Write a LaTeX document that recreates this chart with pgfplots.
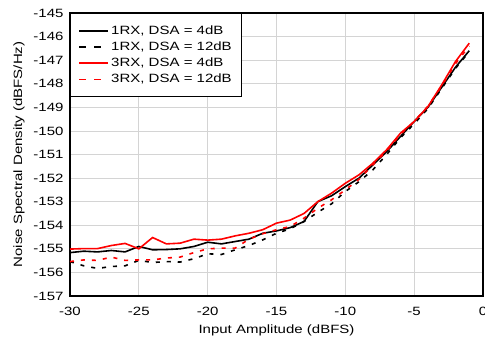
\documentclass[border=0pt]{standalone}
\usepackage{pgfplots}
\pgfplotsset{compat=1.18}
\usepackage{fontspec}
\setmainfont[FakeStretch=1.25]{Liberation Sans}
\definecolor{gridgray}{HTML}{D4D4D4}

\pgfplotstableread{
x a b c d
-30 -155.16 -155.54 -155.01 -155.54
-29 -155.10 -155.72 -154.99 -155.47
-28 -155.13 -155.83 -154.99 -155.49
-27 -155.07 -155.75 -154.86 -155.35
-26 -155.13 -155.72 -154.77 -155.49
-25 -154.90 -155.49 -155.00 -155.47
-24 -155.04 -155.58 -154.52 -155.47
-23 -155.03 -155.54 -154.79 -155.39
-22 -155.00 -155.56 -154.76 -155.35
-21 -154.90 -155.42 -154.59 -155.16
-20 -154.72 -155.21 -154.63 -155.00
-19 -154.79 -155.24 -154.59 -154.97
-18 -154.69 -155.04 -154.45 -154.97
-17 -154.59 -154.86 -154.34 -154.59
-16 -154.34 -154.62 -154.19 -154.36
-15 -154.24 -154.34 -153.91 -154.19
-14 -154.10 -154.15 -153.78 -154.05
-13 -153.84 -153.84 -153.50 -153.70
-12 -153.00 -153.45 -153.00 -153.28
-11 -152.75 -153.09 -152.64 -152.92
-10 -152.36 -152.57 -152.22 -152.50
-9  -152.00 -152.15 -151.86 -152.05
-8  -151.44 -151.65 -151.37 -151.44
-7  -150.88 -151.00 -150.80 -150.85
-6  -150.24 -150.30 -150.10 -150.15
-5  -149.60 -149.70 -149.60 -149.60
-4  -149.00 -149.05 -148.97 -148.95
-3  -148.15 -148.20 -148.05 -148.10
-2  -147.30 -147.35 -147.06 -147.15
-1  -146.60 -146.64 -146.28 -146.40
}\data

\begin{document}
\begin{tikzpicture}
\begin{axis}[
    scale only axis,
    width=413pt, height=283pt,
    xmin=-30, xmax=0, ymin=-157, ymax=-145,
    xtick={-30,-25,...,0}, ytick={-157,-156,...,-145},
    grid=major,
    major grid style={gridgray, line width=0.8pt},
    axis line style={black, line width=1.6pt},
    tick style={draw=none},
    ticklabel style={font=\fontsize{12}{14}\selectfont},
    /pgf/number format/assume math mode=true,
    yticklabel style={xshift=-3pt},
    xticklabel style={yshift=-8pt},
    xlabel={Input Amplitude (dBFS)},
    ylabel={Noise Spectral Density (dBFS/Hz)},
    label style={font=\fontsize{12}{14}\selectfont},
    xlabel style={yshift=-2pt},
    ylabel style={yshift=2pt},
    legend style={at={(0,1)}, anchor=north west, draw=black, line width=1.3pt,
        font=\fontsize{12}{14}\selectfont, row sep=2pt,
        inner xsep=8pt, inner ysep=10pt},
    legend cell align=left,
    legend image code/.code={\draw[#1] (-2pt,0pt) -- (27pt,0pt);},
]
\addplot[black, line width=1.6pt] table[x=x, y=a] {\data};
\addlegendentry{1RX, DSA = 4dB}
\addplot[black, line width=1.6pt, dash pattern=on 4pt off 7pt,
    legend image post style={dash pattern=on 7pt off 8pt}] table[x=x, y=b] {\data};
\addlegendentry{1RX, DSA = 12dB}
\addplot[red, line width=1.6pt] table[x=x, y=c] {\data};
\addlegendentry{3RX, DSA = 4dB}
\addplot[red, line width=1.6pt, dash pattern=on 4pt off 7pt,
    legend image post style={dash pattern=on 7pt off 8pt}] table[x=x, y=d] {\data};
\addlegendentry{3RX, DSA = 12dB}
\end{axis}
\pgfresetboundingbox
\path[use as bounding box] (-70pt,-45pt) rectangle (415pt,296pt);
\end{tikzpicture}
\end{document}
